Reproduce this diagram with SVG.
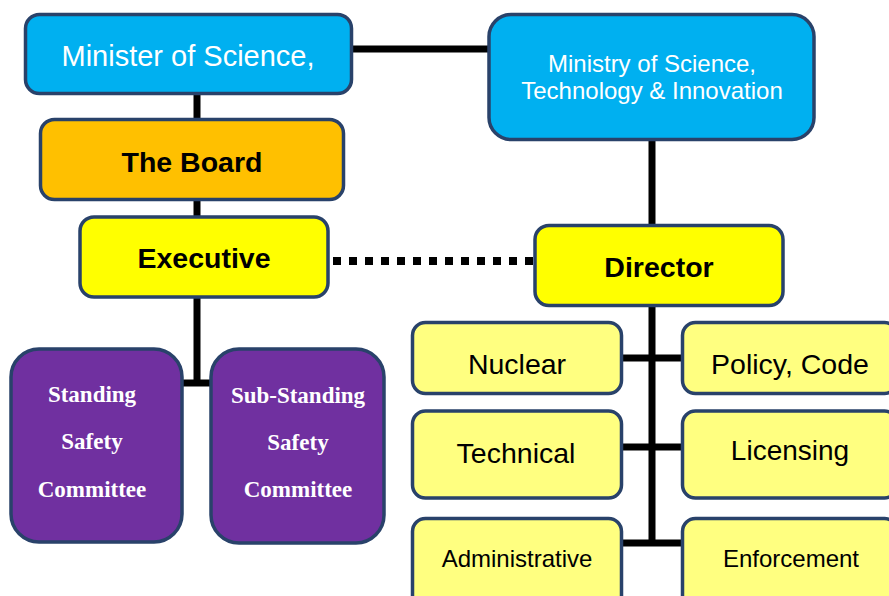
<svg xmlns="http://www.w3.org/2000/svg" width="889" height="596" viewBox="0 0 889 596">
<style>
.box{stroke:#29426a;stroke-width:3.5}
.blue{fill:#00b0f0}
.orange{fill:#ffc000}
.yel{fill:#ffff00}
.lyel{fill:#ffff80}
.purple{fill:#7030a0}
.sans{font-family:"Liberation Sans",Arial,sans-serif;text-anchor:middle}
.serif{font-family:"Liberation Serif","Times New Roman",serif;font-weight:bold;font-size:23px;fill:#fff;text-anchor:middle}
.b{font-weight:bold;font-size:28.5px;fill:#000}
.w{fill:#fff}
.con{stroke:#000;stroke-width:7;fill:none}
</style>
<rect width="889" height="596" fill="#fff"/>
<g id="connectors">
<line class="con" x1="352" y1="49" x2="490" y2="49"/>
<line class="con" x1="197" y1="94" x2="197" y2="120"/>
<line class="con" x1="197" y1="199" x2="197" y2="218"/>
<line class="con" x1="197" y1="296" x2="197" y2="386"/>
<line class="con" x1="181" y1="383" x2="211" y2="383"/>
<line class="con" x1="652" y1="139" x2="652" y2="226"/>
<line class="con" x1="652" y1="305" x2="652" y2="546"/>
<line class="con" x1="621" y1="358" x2="683" y2="358"/>
<line class="con" x1="621" y1="447" x2="683" y2="447"/>
<line class="con" x1="621" y1="543" x2="683" y2="543"/>
<line x1="333" y1="261" x2="535" y2="261" stroke="#000" stroke-width="8" stroke-dasharray="8 8"/>
</g>
<g id="minister">
<rect class="box blue" x="25.5" y="14.5" width="326" height="79" rx="14"/>
<text class="sans w" x="188" y="66" font-size="29">Minister of Science,</text>
</g>
<g id="ministry">
<rect class="box blue" x="489" y="14.5" width="325" height="125" rx="22"/>
<text class="sans w" x="652" y="72" font-size="24">Ministry of Science,</text>
<text class="sans w" x="652" y="99" font-size="24">Technology &amp; Innovation</text>
</g>
<g id="board">
<rect class="box orange" x="40.5" y="119.5" width="303" height="80" rx="14"/>
<text class="sans b" x="192" y="172">The Board</text>
</g>
<g id="executive">
<rect class="box yel" x="80" y="217" width="248" height="80" rx="14"/>
<text class="sans b" x="204" y="268">Executive</text>
</g>
<g id="director">
<rect class="box yel" x="535" y="225.5" width="248" height="80" rx="14"/>
<text class="sans b" x="659" y="277">Director</text>
</g>
<g id="standing">
<rect class="box purple" x="11" y="349" width="171" height="193" rx="28"/>
<text class="serif" x="92" y="402">Standing</text>
<text class="serif" x="92" y="449">Safety</text>
<text class="serif" x="92" y="497">Committee</text>
</g>
<g id="substanding">
<rect class="box purple" x="211" y="349" width="173" height="194" rx="28"/>
<text class="serif" x="298" y="403">Sub-Standing</text>
<text class="serif" x="298" y="450">Safety</text>
<text class="serif" x="298" y="497">Committee</text>
</g>
<g id="nuclear">
<rect class="box lyel" x="412.5" y="322.5" width="209" height="71" rx="13"/>
<text class="sans" x="517" y="374" font-size="28.5">Nuclear</text>
</g>
<g id="policy">
<rect class="box lyel" x="682.5" y="322.5" width="215" height="71" rx="13"/>
<text class="sans" x="790" y="374" font-size="28.5">Policy, Code</text>
</g>
<g id="technical">
<rect class="box lyel" x="412.5" y="411" width="209" height="87" rx="13"/>
<text class="sans" x="516" y="463" font-size="28.5">Technical</text>
</g>
<g id="licensing">
<rect class="box lyel" x="682.5" y="411" width="215" height="87" rx="13"/>
<text class="sans" x="790" y="460" font-size="28">Licensing</text>
</g>
<g id="administrative">
<rect class="box lyel" x="412.5" y="518.5" width="209" height="100" rx="13"/>
<text class="sans" x="517" y="567" font-size="24">Administrative</text>
</g>
<g id="enforcement">
<rect class="box lyel" x="682.5" y="518.5" width="215" height="100" rx="13"/>
<text class="sans" x="791" y="567" font-size="24">Enforcement</text>
</g>
</svg>
